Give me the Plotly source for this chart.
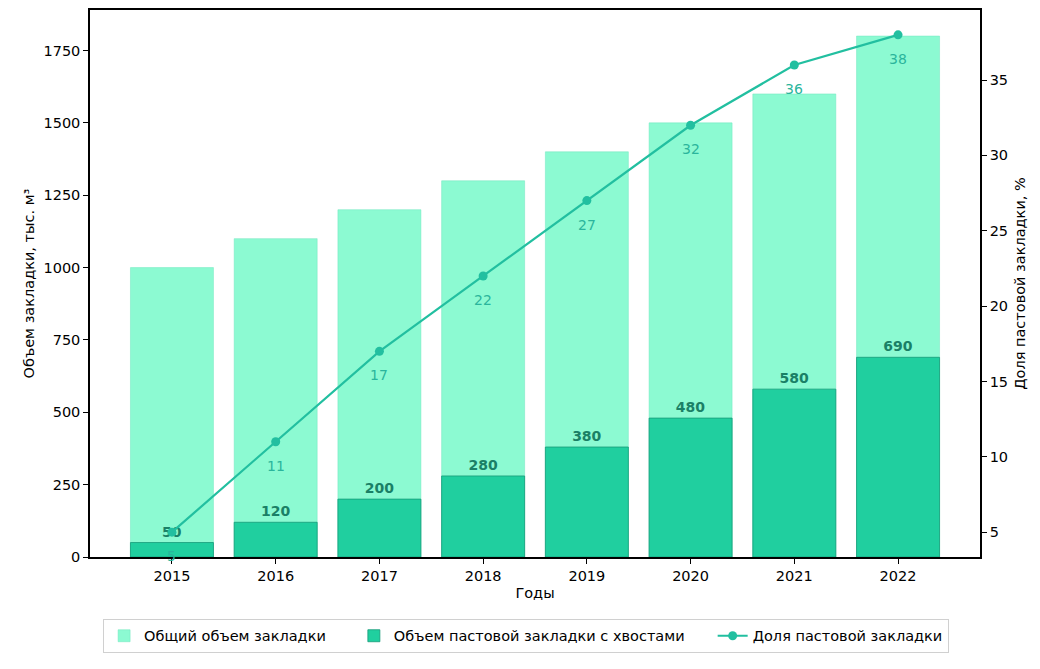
import plotly.graph_objects as go

years = [2015, 2016, 2017, 2018, 2019, 2020, 2021, 2022]
total_volume = [1000, 1100, 1200, 1300, 1400, 1500, 1600, 1800]
paste_volume = [50, 120, 200, 280, 380, 480, 580, 690]
paste_share = [5, 11, 17, 22, 27, 32, 36, 38]

FONT = "DejaVu Sans"
LIGHT = "rgba(127,250,205,0.9)"
DARK = "#20cf9f"
LINE = "#22bfa0"
PAD = "\u00a0" * 5

fig = go.Figure()
fig.add_trace(go.Bar(
    x=years, y=total_volume, name="Общий объем закладки" + PAD,
    marker=dict(color=LIGHT, line=dict(color="rgba(110,230,190,1)", width=0.5)),
    width=0.8,
))
fig.add_trace(go.Bar(
    x=years, y=paste_volume, name="Объем пастовой закладки с хвостами" + PAD,
    marker=dict(color=DARK, line=dict(color="#159a78", width=0.8)),
    width=0.8,
    text=[str(v) for v in paste_volume], textposition="outside",
    textfont=dict(family=FONT, size=14, color="#1a8066", weight="bold"),
    cliponaxis=False,
))
fig.add_trace(go.Scatter(
    x=years, y=paste_share, name="Доля пастовой закладки", yaxis="y2",
    mode="lines+markers",
    line=dict(color=LINE, width=2.2),
    marker=dict(color=LINE, size=9),
    cliponaxis=False,
))
for x, v in zip(years, paste_share):
    fig.add_annotation(x=x, y=v, xref="x", yref="y2", text=str(v), showarrow=False,
                       yshift=-24, font=dict(family=FONT, size=14, color="#2ab59c"))

axis_common = dict(showline=True, linecolor="black", linewidth=1.5,
                   ticks="outside", ticklen=5, tickcolor="black", showgrid=False,
                   zeroline=False, automargin=False, tickfont=dict(size=14.5))

fig.update_layout(
    width=1040, height=669,
    margin=dict(l=82, r=68, t=2, b=120),
    paper_bgcolor="white", plot_bgcolor="white",
    barmode="overlay", bargap=0.2,
    font=dict(family=FONT, size=14, color="black"),
    showlegend=True,
    legend=dict(orientation="h", x=0.49, xanchor="center", y=-0.113, yanchor="top",
                bordercolor="#d0d0d0", borderwidth=1, font=dict(size=14.5)),
    xaxis=dict(range=[2014.21, 2022.79], tickvals=years, ticktext=[str(y) for y in years],
               mirror=True, title=dict(text="Годы", standoff=5, font=dict(size=14.5)),
               **axis_common),
    yaxis=dict(range=[0, 1890], tickvals=[0, 250, 500, 750, 1000, 1250, 1500, 1750],
               mirror=True,
               title=dict(text="Объем закладки, тыс. м³", standoff=5, font=dict(size=14.5)),
               **axis_common),
    yaxis2=dict(range=[3.35, 39.65], overlaying="y", side="right",
                tickvals=[5, 10, 15, 20, 25, 30, 35],
                title=dict(text="Доля пастовой закладки, %", standoff=8, font=dict(size=14.5)),
                **axis_common),
)

fig.write_html("out.html")
